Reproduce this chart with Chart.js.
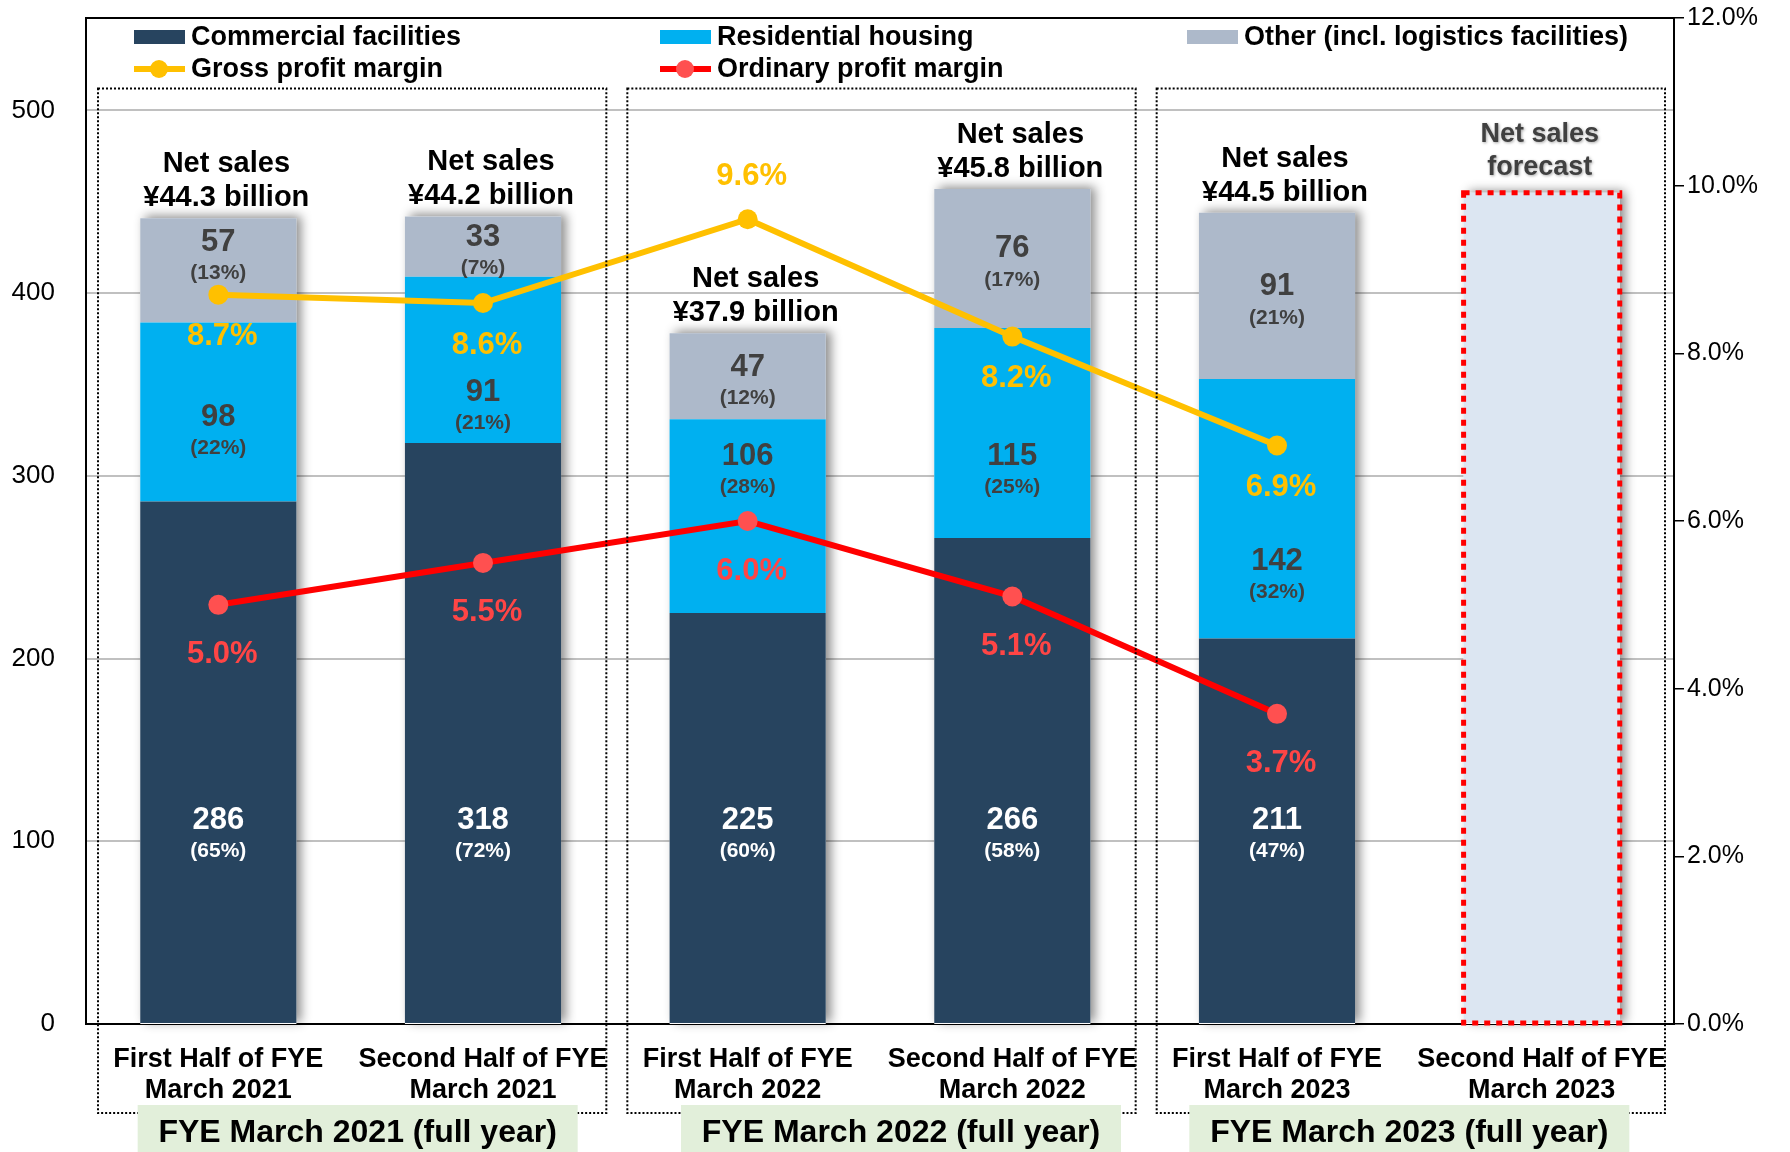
<!DOCTYPE html>
<html>
<head>
<meta charset="utf-8">
<script src="https://cdn.jsdelivr.net/npm/chart.js@4.4.1/dist/chart.umd.min.js"></script>
<style>
  html, body { margin: 0; padding: 0; background: #fff; }
  #wrap { width: 1790px; height: 1152px; position: relative; }
</style>
</head>
<body>
<div id="wrap"><canvas id="salesChart"></canvas></div>
<script>
const categories = [
    ['First Half of FYE', 'March 2021'],
    ['Second Half of FYE', 'March 2021'],
    ['First Half of FYE', 'March 2022'],
    ['Second Half of FYE', 'March 2022'],
    ['First Half of FYE', 'March 2023'],
    ['Second Half of FYE', 'March 2023']
];
const commercial = [286, 318, 225, 266, 211, null];
const residential = [98, 91, 106, 115, 142, null];
const other = [57, 33, 47, 76, 91, null];
const forecast = [null, null, null, null, null, 455];
const commercialShare = [65, 72, 60, 58, 47];
const residentialShare = [22, 21, 28, 25, 32];
const otherShare = [13, 7, 12, 17, 21];
const netSales = ['¥44.3 billion', '¥44.2 billion', '¥37.9 billion', '¥45.8 billion', '¥44.5 billion'];
const grossMargin = [8.7, 8.6, 9.6, 8.2, 6.9, null];
const ordinaryMargin = [5.0, 5.5, 6.0, 5.1, 3.7, null];
const yearGroups = ['FYE March 2021 (full year)', 'FYE March 2022 (full year)', 'FYE March 2023 (full year)'];
const salesTicks = [0, 100, 200, 300, 400, 500];
const marginTicks = [0, 2, 4, 6, 8, 10, 12];

const FONT = '"Liberation Sans", Arial, sans-serif';
const NAVY = '#27445f';
const CYAN = '#00b0f0';
const GREY = '#adb9ca';
const GOLD = '#ffc000';
const RED = '#ff0000';
const RED_LABEL = '#ff4545';

// top of each stacked column, taken from the last non-empty bar element
function stackRects(chart) {
    const yScale = chart.scales.y;
    const rects = [];
    chart.data.labels.forEach((_, i) => {
        let el = null;
        for (let d = 0; d < 4; d++) {
            if (chart.data.datasets[d].data[i] != null) el = chart.getDatasetMeta(d).data[i];
        }
        if (!el) return;
        rects.push({ i: i, cx: el.x, x: el.x - el.width / 2, w: el.width, top: el.y, bottom: yScale.getPixelForValue(0) });
    });
    return rects;
}

function lineLabelY(pt, stackTop, isGross) {
    if (isGross) return pt.y < stackTop ? pt.y - 43 : pt.y + 42;
    return pt.y + 50;
}

function freeMiddle(top, bottom, blocks) {
    let free = [[top, bottom]];
    blocks.forEach(b => {
        const next = [];
        free.forEach(f => {
            if (b[1] <= f[0] || b[0] >= f[1]) { next.push(f); return; }
            if (b[0] > f[0]) next.push([f[0], b[0]]);
            if (b[1] < f[1]) next.push([b[1], f[1]]);
        });
        free = next;
    });
    let best = free[0] || [top, bottom];
    free.forEach(f => { if (f[1] - f[0] > best[1] - best[0]) best = f; });
    return (best[0] + best[1]) / 2;
}

function drawPair(ctx, x, mid, value, share, color) {
    ctx.fillStyle = color;
    ctx.font = 'bold 31px ' + FONT;
    ctx.fillText(String(value), x, mid - 14);
    ctx.font = 'bold 21px ' + FONT;
    ctx.fillText('(' + share + '%)', x, mid + 17);
}

const decorPlugin = {
    id: 'decor',
    beforeDatasetsDraw(chart) {
        const ctx = chart.ctx;
        ctx.save();
        ctx.shadowColor = 'rgba(0,0,0,0.45)';
        ctx.shadowBlur = 10;
        ctx.shadowOffsetX = 5;
        ctx.shadowOffsetY = -2;
        ctx.fillStyle = '#fff';
        stackRects(chart).forEach(r => ctx.fillRect(r.x, r.top, r.w, r.bottom - r.top));
        ctx.restore();
    },
    afterDatasetsDraw(chart) {
        const ctx = chart.ctx;
        const metaF = chart.getDatasetMeta(3);
        ctx.save();
        ctx.strokeStyle = RED;
        ctx.lineWidth = 5;
        ctx.setLineDash([6, 6]);
        metaF.data.forEach((el, i) => {
            if (forecast[i] == null) return;
            ctx.strokeRect(el.x - el.width / 2, el.y, el.width, el.base - el.y);
        });
        ctx.restore();
    },
    afterDraw(chart) {
        const ctx = chart.ctx;
        const area = chart.chartArea;
        const xScale = chart.scales.x;
        const yScale = chart.scales.y;
        const catW = xScale.getPixelForValue(1) - xScale.getPixelForValue(0);

        ctx.save();
        // top frame line
        ctx.strokeStyle = '#000';
        ctx.lineWidth = 2;
        ctx.beginPath();
        ctx.moveTo(area.left, area.top);
        ctx.lineTo(area.right, area.top);
        ctx.stroke();

        // dotted year boxes
        ctx.lineWidth = 2;
        ctx.setLineDash([2, 2]);
        const boxTop = yScale.getPixelForValue(512);
        const boxBottom = area.bottom + 89;
        yearGroups.forEach((g, k) => {
            const l = xScale.getPixelForValue(2 * k) - catW / 2 + 12;
            const r = xScale.getPixelForValue(2 * k + 1) + catW / 2 - 9;
            ctx.strokeRect(l, boxTop, r - l, boxBottom - boxTop);
        });
        ctx.setLineDash([]);

        // full-year captions
        const nudge = [7, 21, 0];
        ctx.textAlign = 'center';
        ctx.textBaseline = 'middle';
        yearGroups.forEach((g, k) => {
            const c = (xScale.getPixelForValue(2 * k) + xScale.getPixelForValue(2 * k + 1)) / 2 + nudge[k];
            ctx.fillStyle = '#e2efda';
            ctx.fillRect(c - 220, area.bottom + 81, 440, chart.height - area.bottom - 81);
            ctx.fillStyle = '#000';
            ctx.font = 'bold 32px ' + FONT;
            ctx.fillText(g, c, area.bottom + 109);
        });

        // legend
        const ds = chart.data.datasets;
        const cols = [area.left + 48, area.left + 574, area.left + 1101];
        const row1 = area.top + 19, row2 = area.top + 51;
        ctx.textAlign = 'left';
        ctx.font = 'bold 27px ' + FONT;
        [0, 1, 2].forEach(d => {
            ctx.fillStyle = ds[d].backgroundColor;
            ctx.fillRect(cols[d], row1 - 7, 51, 14);
            ctx.fillStyle = '#000';
            ctx.fillText(ds[d].label, cols[d] + 57, row1 + 1);
        });
        [4, 5].forEach((d, k) => {
            const x0 = cols[k];
            ctx.strokeStyle = ds[d].borderColor;
            ctx.lineWidth = 6;
            ctx.beginPath();
            ctx.moveTo(x0, row2);
            ctx.lineTo(x0 + 51, row2);
            ctx.stroke();
            ctx.fillStyle = ds[d].pointBackgroundColor;
            ctx.beginPath();
            ctx.arc(x0 + 25, row2, 9, 0, Math.PI * 2);
            ctx.fill();
            ctx.fillStyle = '#000';
            ctx.fillText(ds[d].label, x0 + 57, row2 + 1);
        });

        // value labels
        ctx.textAlign = 'center';
        const grossMeta = chart.getDatasetMeta(4);
        const ordMeta = chart.getDatasetMeta(5);
        stackRects(chart).forEach(r => {
            const i = r.i;
            if (forecast[i] != null) {
                ctx.save();
                ctx.shadowColor = 'rgba(0,0,0,0.35)';
                ctx.shadowBlur = 3;
                ctx.shadowOffsetX = 1;
                ctx.shadowOffsetY = 1;
                ctx.fillStyle = '#404040';
                ctx.font = 'bold 27px ' + FONT;
                ctx.fillText('Net sales', r.cx - 2, r.top - 58);
                ctx.fillText('forecast', r.cx - 2, r.top - 25);
                ctx.restore();
                return;
            }
            ctx.fillStyle = '#000';
            ctx.font = 'bold 29px ' + FONT;
            ctx.fillText('Net sales', r.cx + 8, r.top - 54);
            ctx.fillText(netSales[i], r.cx + 8, r.top - 20);

            const blocks = [];
            const gp = grossMeta.data[i], op = ordMeta.data[i];
            const gy = lineLabelY(gp, r.top, true), oy = lineLabelY(op, r.top, false);
            blocks.push([gp.y - 12, gp.y + 12], [gy - 16, gy + 16], [op.y - 12, op.y + 12], [oy - 16, oy + 16]);

            const cTop = yScale.getPixelForValue(commercial[i]);
            const rTop = yScale.getPixelForValue(commercial[i] + residential[i]);
            drawPair(ctx, r.cx, freeMiddle(r.top + 2, rTop - 2, blocks) + 5, other[i], otherShare[i], '#404040');
            drawPair(ctx, r.cx, freeMiddle(rTop + 2, cTop - 2, blocks) + 5, residential[i], residentialShare[i], '#404040');
            drawPair(ctx, r.cx, yScale.getPixelForValue(104), commercial[i], commercialShare[i], '#fff');

            ctx.font = 'bold 31px ' + FONT;
            ctx.fillStyle = GOLD;
            ctx.fillText(grossMargin[i].toFixed(1) + '%', gp.x + 4, gy);
            ctx.fillStyle = RED_LABEL;
            ctx.fillText(ordinaryMargin[i].toFixed(1) + '%', op.x + 4, oy);
        });
        ctx.restore();
    }
};

const ctx = document.getElementById('salesChart').getContext('2d');
new Chart(ctx, {
    type: 'bar',
    data: {
        labels: categories,
        datasets: [
            { label: 'Commercial facilities', data: commercial, backgroundColor: NAVY, stack: 's', order: 2 },
            { label: 'Residential housing', data: residential, backgroundColor: CYAN, stack: 's', order: 2 },
            { label: 'Other (incl. logistics facilities)', data: other, backgroundColor: GREY, stack: 's', order: 2 },
            { label: 'Net sales forecast', data: forecast, backgroundColor: '#dce6f2', stack: 's', order: 2 },
            {
                type: 'line', label: 'Gross profit margin', data: grossMargin, yAxisID: 'y1', order: 0,
                borderColor: GOLD, pointBackgroundColor: GOLD, pointBorderWidth: 0,
                borderWidth: 6, pointRadius: 10, tension: 0
            },
            {
                type: 'line', label: 'Ordinary profit margin', data: ordinaryMargin, yAxisID: 'y1', order: 0,
                borderColor: RED, pointBackgroundColor: '#ff5050', pointBorderWidth: 0,
                borderWidth: 6, pointRadius: 10, tension: 0
            }
        ]
    },
    options: {
        responsive: true,
        maintainAspectRatio: false,
        animation: false,
        barPercentage: 0.59,
        categoryPercentage: 1,
        layout: { padding: { top: 18, left: 0, right: 0, bottom: 0 } },
        plugins: {
            legend: { display: false },
            tooltip: { enabled: false }
        },
        scales: {
            x: {
                stacked: true,
                grid: { display: false },
                border: { display: true, color: '#000', width: 2 },
                ticks: {
                    color: '#000',
                    font: { family: FONT, size: 27, weight: 'bold', lineHeight: 1.15 },
                    padding: 12,
                    maxRotation: 0,
                    autoSkip: false
                },
                afterFit(s) { s.height = 128; }
            },
            y: {
                stacked: true,
                min: 0,
                max: 550.6,
                afterBuildTicks(s) { s.ticks = salesTicks.map(v => ({ value: v })); },
                grid: { color: '#c0c0c0', lineWidth: 2, drawTicks: true, tickLength: 29, tickColor: 'rgba(0,0,0,0)' },
                border: { display: true, color: '#000', width: 2 },
                ticks: { color: '#000', font: { family: FONT, size: 26 }, padding: 2 },
                afterFit(s) { s.width = 86; }
            },
            y1: {
                position: 'right',
                stacked: false,
                min: 0,
                max: 12,
                afterBuildTicks(s) { s.ticks = marginTicks.map(v => ({ value: v })); },
                grid: { drawOnChartArea: false, drawTicks: true, tickLength: 10, color: '#000', lineWidth: 1.5 },
                border: { display: true, color: '#000', width: 2 },
                ticks: {
                    color: '#000',
                    font: { family: FONT, size: 25 },
                    padding: 3,
                    callback: v => v.toFixed(1) + '%'
                },
                afterFit(s) { s.width = 116; }
            }
        }
    },
    plugins: [decorPlugin]
});
</script>
</body>
</html>
